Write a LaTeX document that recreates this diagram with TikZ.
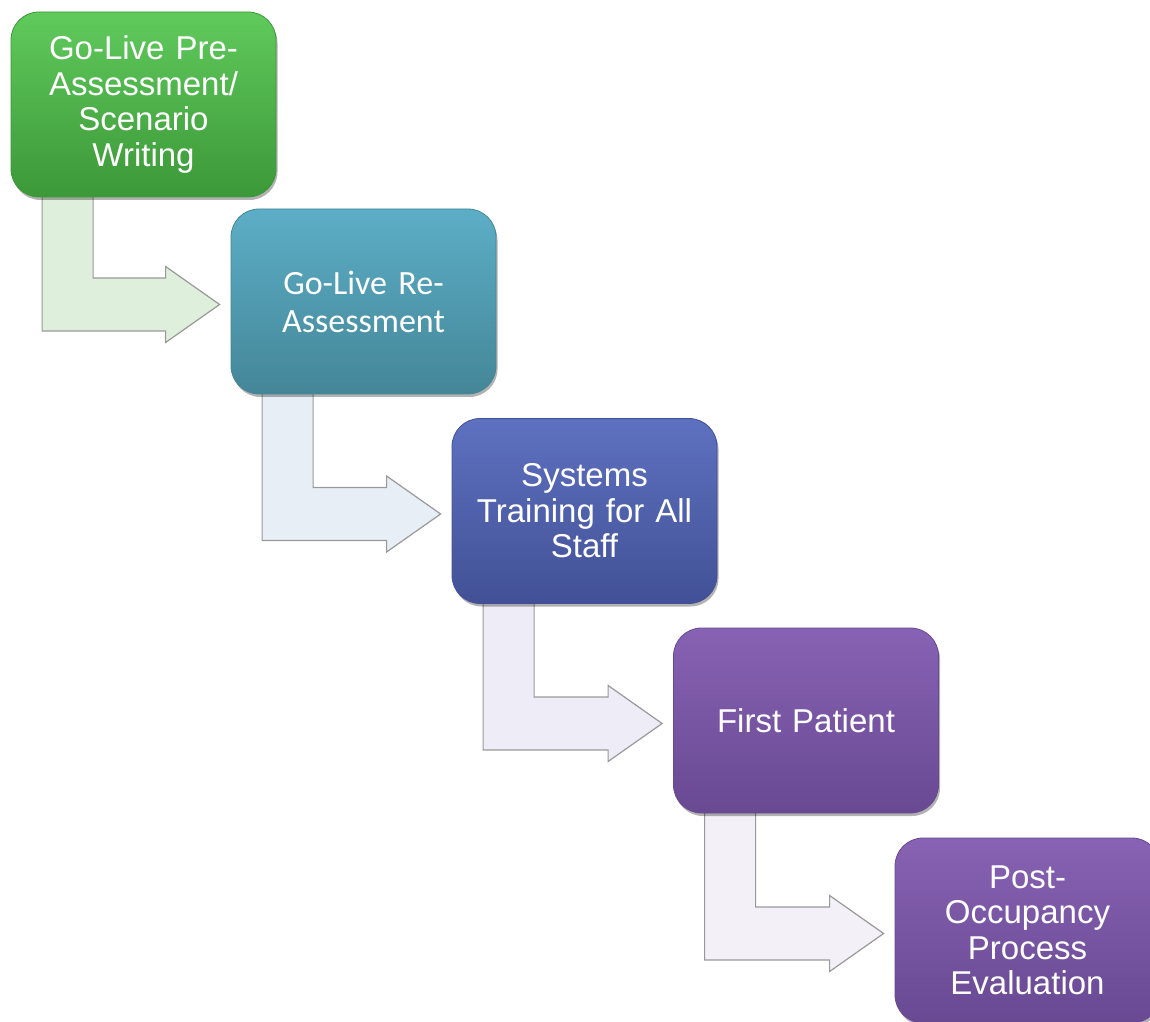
\documentclass[tikz,border=0pt]{standalone}
\usepackage{fontspec}
\setmainfont{Liberation Sans}
\newfontfamily\carlito{Carlito}
\usetikzlibrary{calc,shadows,backgrounds}

\definecolor{preTop}{RGB}{96,202,92}
\definecolor{preBot}{RGB}{60,152,56}
\definecolor{reTop}{RGB}{92,174,198}
\definecolor{reBot}{RGB}{68,134,152}
\definecolor{trainTop}{RGB}{94,113,192}
\definecolor{trainBot}{RGB}{66,81,150}
\definecolor{purpTop}{RGB}{136,98,180}
\definecolor{purpBot}{RGB}{104,73,146}
\definecolor{arrowA}{RGB}{222,240,219}
\definecolor{arrowB}{RGB}{231,238,246}
\definecolor{arrowC}{RGB}{237,236,247}
\definecolor{arrowD}{RGB}{243,240,247}

\begin{document}
\begin{tikzpicture}[x=1pt, y=1pt,
    stage/.style={rounded corners=28pt, minimum width=265pt, minimum height=185pt,
      text width=250pt, align=center, inner sep=0pt, text=white, line width=0.8pt,
      font=\fontsize{33}{35.5}\selectfont,
      drop shadow={shadow xshift=1.5pt, shadow yshift=-3pt, opacity=0.3, fill=black}},
    bent/.style={draw=black!40, line width=1.2pt, line join=miter}]
  \path[use as bounding box, clip] (0,0) rectangle (1150,1021);

  \node[stage, top color=preTop, bottom color=preBot, draw=preBot] (pre) at (143.5,916.5)
    {Go-Live Pre-\\Assessment/\\Scenario\\Writing};
  \node[stage, top color=reTop, bottom color=reBot, draw=reBot,
    font=\carlito\fontsize{34}{38}\selectfont] (re) at ($(pre)+(220,-197)$)
    {Go-Live Re-\\Assessment};
  \node[stage, top color=trainTop, bottom color=trainBot, draw=trainBot] (train) at ($(re)+(221,-209.5)$)
    {Systems\\Training for All\\Staff};
  \node[stage, top color=purpTop, bottom color=purpBot, draw=purpBot] (first) at ($(train)+(221.5,-209.5)$)
    {First Patient};
  \node[stage, top color=purpTop, bottom color=purpBot, draw=purpBot] (post) at ($(first)+(221.5,-210)$)
    {Post-\\Occupancy\\Process\\Evaluation};

  %% bent arrows go behind the boxes: down from one box, then right to the next one
  \begin{scope}[on background layer]
    \foreach \from/\to/\col in {pre/re/arrowA, re/train/arrowB, train/first/arrowC, first/post/arrowD}
      \filldraw[bent, fill=\col] let \p1=(\from.south west), \p2=(\to.west) in
        (\x1+31.5pt, \y1+5pt) -- (\x1+31.5pt, \y2-29.5pt) -- (\x2-65pt, \y2-29.5pt)
        -- (\x2-65pt, \y2-41pt) -- (\x2-11pt, \y2-3pt) -- (\x2-65pt, \y2+35pt)
        -- (\x2-65pt, \y2+23.5pt) -- (\x1+82.5pt, \y2+23.5pt) -- (\x1+82.5pt, \y1+5pt);
  \end{scope}
\end{tikzpicture}
\end{document}
